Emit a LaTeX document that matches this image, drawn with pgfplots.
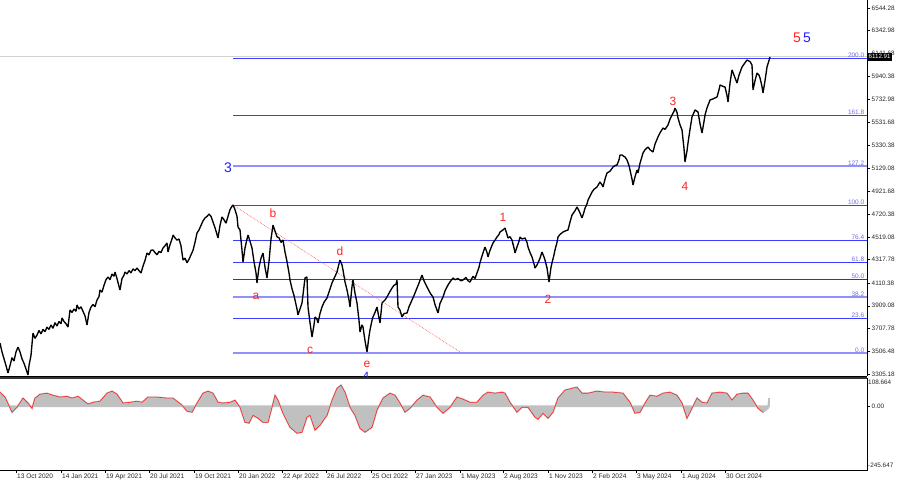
\documentclass[border=0pt]{standalone}
\usepackage{fontspec}
\setmainfont{Liberation Sans}
\usepackage{pgfplots}
\pgfplotsset{compat=1.18}
\definecolor{fibblue}{RGB}{60,60,255}
\definecolor{fibdark}{RGB}{45,45,220}
\definecolor{fiblight}{RGB}{145,145,252}
\definecolor{fibtext}{RGB}{110,110,230}
\definecolor{wred}{RGB}{255,35,35}
\definecolor{wblue}{RGB}{30,30,255}
\definecolor{oscgray}{RGB}{192,192,192}
\pgfplotsset{fibline/.style={draw=fibblue, line width=1bp, mark=none},
  fiblightline/.style={draw=fiblight, line width=2bp, mark=none}}
\begin{document}
\begin{tikzpicture}
\useasboundingbox (0,0) rectangle (900bp,-485bp);
\begin{axis}[
  name=main, at={(0,0)}, anchor=north west, scale only axis,
  width=867bp, height=376bp,
  xmin=0, xmax=867, ymin=3287.5, ymax=6615,
  axis x line*=bottom, axis y line*=right,
  axis line style={-, black, line width=1pt},
  xtick=\empty,
  ytick={3305.18,3506.48,3707.78,3909.08,4110.38,4317.78,4519.08,4720.38,4921.68,5129.08,5330.38,5531.68,5732.98,5940.38,6141.68,6342.98,6544.28},
  yticklabels={3305.18,3506.48,3707.78,3909.08,4110.38,4317.78,4519.08,4720.38,4921.68,5129.08,5330.38,5531.68,5732.98,5940.38,6141.68,6342.98,6544.28},
  yticklabel style={font=\fontsize{6.4}{7}\selectfont, text=black!85, inner sep=1.5bp},
  tick align=outside, major tick length=3bp, tick style={black, line width=0.5pt},
  clip=true,
]
% current price line
\addplot[draw=gray!35, line width=1pt] coordinates {(0,6112.91) (867,6112.91)};
% fibonacci levels
\addplot[fibline] coordinates {(233,6097.3) (867,6097.3)};
\addplot[fibline] coordinates {(233,5592.9) (867,5592.9)};
\addplot[fiblightline] coordinates {(233,5146) (867,5146)};
\addplot[fibline] coordinates {(233,4796.4) (867,4796.4)};
\addplot[fibline] coordinates {(233,4486.6) (867,4486.6)};
\addplot[fibline] coordinates {(233,4292) (867,4292)};
\addplot[fibline, draw=fibdark] coordinates {(233,4141.5) (867,4141.5)};
\addplot[fiblightline] coordinates {(233,3986.6) (867,3986.6)};
\addplot[fibline] coordinates {(233,3796.4) (867,3796.4)};
\addplot[fiblightline] coordinates {(233,3491) (867,3491)};
% trend line
\addplot[draw=wred!70, densely dotted, line width=0.7pt] coordinates {(233,4801) (460,3500)};
% price
\addplot[draw=black, line width=1.35pt, line join=bevel] coordinates {
(0,3579) (2,3500) (4,3440) (6,3380) (8,3314) (10,3380) (12,3450) (14,3420) (16,3500) (18,3544)
(20,3500) (22,3440) (24,3400) (26,3350) (28,3296) (29,3380) (31,3470) (33,3668) (35,3620) (37,3650)
(39,3690) (41,3660) (43,3700) (45,3680) (47,3720) (49,3700) (51,3739) (53,3710) (55,3760) (57,3730)
(59,3770) (61,3750) (62,3801) (64,3770) (66,3750) (68,3721) (70,3872) (72,3850) (74,3880) (76,3860)
(77,3916) (79,3880) (81,3900) (83,3860) (85,3820) (87,3739) (89,3850) (91,3898) (93,3920) (95,3900)
(97,3960) (99,3990) (100,4049) (102,4030) (104,4090) (106,4140) (108,4164) (110,4140) (112,4190) (114,4170)
(115,4208) (117,4150) (119,4080) (120,4049) (122,4150) (124,4180) (125,4208) (127,4190) (129,4220) (131,4200)
(133,4235) (135,4220) (137,4243) (139,4220) (141,4199) (143,4260) (145,4310) (147,4376) (149,4360) (151,4400)
(153,4403) (155,4380) (157,4360) (159,4390) (161,4380) (163,4420) (165,4440) (167,4465) (168,4385) (170,4450)
(172,4500) (173,4535) (175,4510) (177,4490) (179,4500) (181,4440) (183,4314) (185,4330) (187,4290) (189,4320)
(191,4360) (193,4400) (195,4470) (197,4553) (199,4580) (201,4620) (203,4660) (205,4686) (207,4700) (209,4720)
(211,4700) (213,4650) (215,4600) (217,4540) (218,4509) (220,4620) (222,4695) (224,4670) (226,4640) (228,4700)
(230,4760) (232,4790) (233,4801) (235,4760) (237,4700) (238,4606) (240,4580) (242,4400) (243,4296) (245,4420)
(247,4500) (248,4535) (250,4480) (252,4420) (254,4300) (256,4200) (257,4111) (259,4250) (261,4330) (263,4376)
(265,4250) (267,4155) (269,4300) (271,4500) (273,4623) (275,4570) (277,4520) (279,4510) (281,4470) (283,4491)
(285,4385) (287,4300) (289,4200) (290,4137) (292,4060) (294,4000) (295,3960) (297,3880) (298,3827) (300,3880)
(302,3934) (304,4080) (305,4155) (307,4164) (308,3898) (310,3760) (312,3633) (314,3740) (315,3810) (317,3790)
(318,3757) (320,3840) (322,3898) (324,3940) (327,3978) (329,4030) (332,4111) (334,4150) (337,4208) (339,4280)
(340,4314) (342,4270) (343,4226) (345,4120) (347,4049) (349,3960) (350,3898) (352,4080) (353,4137) (355,4020)
(357,3934) (359,3780) (360,3677) (362,3740) (363,3721) (365,3600) (367,3500) (369,3640) (370,3695) (372,3780)
(373,3810) (375,3850) (377,3898) (379,3800) (380,3757) (382,3934) (385,3960) (387,3987) (389,4020) (392,4066)
(394,4090) (396,4100) (397,4137) (398,3898) (400,3870) (402,3810) (404,3840) (407,3845) (409,3900) (412,3960)
(414,4000) (417,4066) (419,4110) (422,4181) (424,4130) (427,4075) (429,4040) (431,4010) (433,3987) (435,3920)
(438,3845) (440,3930) (443,3987) (445,4040) (448,4093) (450,4120) (453,4155) (455,4140) (458,4150) (461,4130)
(463,4137) (466,4160) (468,4130) (470,4119) (473,4170) (475,4150) (477,4199) (479,4250) (480,4290) (482,4350)
(485,4429) (487,4380) (488,4341) (490,4400) (493,4465) (495,4490) (497,4518) (499,4540) (500,4562) (503,4580)
(505,4597) (507,4540) (508,4509) (510,4520) (512,4491) (514,4420) (515,4376) (517,4429) (519,4480) (520,4518)
(522,4500) (525,4509) (527,4470) (528,4429) (530,4380) (532,4341) (534,4280) (535,4243) (537,4270) (538,4288)
(540,4330) (542,4385) (544,4340) (545,4314) (547,4243) (549,4119) (551,4250) (552,4288) (554,4360) (555,4403)
(557,4470) (558,4518) (560,4540) (563,4562) (565,4570) (568,4580) (570,4650) (572,4712) (575,4750) (577,4783)
(579,4750) (580,4730) (582,4686) (584,4740) (585,4774) (587,4810) (588,4845) (590,4880) (592,4916) (594,4940)
(597,4960) (599,4990) (600,5004) (602,4980) (603,4960) (605,5030) (607,5084) (610,5100) (613,5137) (615,5150)
(617,5155) (619,5200) (620,5243) (622,5243) (624,5230) (625,5226) (627,5199) (629,5150) (630,5111) (632,5030)
(633,4978) (635,5050) (637,5111) (638,5084) (640,5170) (643,5261) (645,5290) (648,5314) (650,5290) (653,5270)
(655,5340) (658,5403) (660,5440) (663,5482) (665,5470) (668,5509) (670,5560) (672,5597) (674,5630) (675,5659)
(677,5620) (678,5571) (680,5510) (682,5465) (684,5300) (685,5181) (687,5280) (688,5350) (690,5470) (692,5580)
(694,5620) (695,5642) (697,5630) (698,5624) (700,5520) (702,5438) (704,5540) (705,5597) (707,5660) (710,5730)
(713,5740) (717,5757) (719,5820) (720,5863) (723,5850) (725,5845) (727,5770) (728,5712) (730,5880) (732,5996)
(734,5950) (737,5880) (739,5950) (742,6022) (745,6060) (747,6084) (750,6070) (752,6040) (753,5819) (755,5900)
(757,5969) (759,5950) (760,5925) (762,5850) (763,5792) (765,5900) (767,6022) (769,6080) (770,6111)
};
% fib labels
\begin{scope}[every node/.style={anchor=south east, inner sep=0.6bp, text=fibtext, font=\fontsize{6.5}{7}\selectfont}]
\node at (axis cs:865,6097.3) {200.0};
\node at (axis cs:865,5592.9) {161.8};
\node at (axis cs:865,5146) {127.2};
\node at (axis cs:865,4796.4) {100.0};
\node at (axis cs:865,4486.6) {76.4};
\node at (axis cs:865,4292) {61.8};
\node at (axis cs:865,4141.5) {50.0};
\node at (axis cs:865,3986.6) {38.2};
\node at (axis cs:865,3796.4) {23.6};
\node at (axis cs:865,3491) {0.0};
\end{scope}
% wave labels
\node[text=wblue, font=\fontsize{14}{14}\selectfont] at (axis cs:228,5128) {3};
\node[text=wred, font=\fontsize{14}{14}\selectfont] at (axis cs:797,6279) {5};
\node[text=wblue, font=\fontsize{14}{14}\selectfont] at (axis cs:807,6279) {5};
\node[text=wred, font=\fontsize{12}{12}\selectfont] at (axis cs:273,4730) {b};
\node[text=wred, font=\fontsize{12}{12}\selectfont] at (axis cs:256,3995) {a};
\node[text=wred, font=\fontsize{12}{12}\selectfont] at (axis cs:310,3518) {c};
\node[text=wred, font=\fontsize{12}{12}\selectfont] at (axis cs:340,4394) {d};
\node[text=wred, font=\fontsize{12}{12}\selectfont] at (axis cs:367,3394) {e};
\node[text=wblue, font=\fontsize{12}{12}\selectfont, anchor=north, inner sep=0pt] at (axis cs:366,3322) {4};
\node[text=wred, font=\fontsize{12}{12}\selectfont] at (axis cs:503,4695) {1};
\node[text=wred, font=\fontsize{12}{12}\selectfont] at (axis cs:548,3969) {2};
\node[text=wred, font=\fontsize{12}{12}\selectfont] at (axis cs:673,5721) {3};
\node[text=wred, font=\fontsize{12}{12}\selectfont] at (axis cs:685,4969) {4};
\coordinate (pl) at (axis cs:867,6112.91);
\end{axis}
\node[fill=black, text=white, anchor=west, inner sep=1bp, minimum height=8bp, font=\fontsize{6.2}{7}\selectfont] at ([xshift=0.5bp]pl) {6112.91};

\begin{axis}[
  name=osc, at={(0,-378bp)}, anchor=north west, scale only axis,
  width=867bp, height=92bp,
  xmin=0, xmax=867, ymin=-245.647, ymax=108.664,
  axis line style={draw=none},
  ytick={0}, yticklabels={0.00}, yticklabel pos=right,
  yticklabel style={font=\fontsize{6.4}{7}\selectfont, text=black!85, inner sep=1.5bp},
  xtick={-27,16,61,105,149,194,238,282,326,371,415,460,503,548,592,636,681,725},
  xticklabels={20 Jul 2020,13 Oct 2020,14 Jan 2021,19 Apr 2021,20 Jul 2021,19 Oct 2021,20 Jan 2022,22 Apr 2022,26 Jul 2022,25 Oct 2022,27 Jan 2023,1 May 2023,2 Aug 2023,1 Nov 2023,2 Feb 2024,3 May 2024,1 Aug 2024,30 Oct 2024},
  xticklabel style={font=\fontsize{6.6}{7}\selectfont, text=black!85, anchor=north west, xshift=0bp, inner sep=1bp},
  xtick pos=bottom,
  tick align=outside, major tick length=3bp, tick style={black, line width=0.5pt},
  clip=false,
]
\addplot[fill=oscgray, draw=oscgray, line width=1.6pt] coordinates {
(0,54) (5,35) (12,-23) (17,-4) (23,31) (28,12) (32,-8) (35,31) (40,46) (47,50) (53,42) (60,35) (67,38) (72,31) (78,38) (83,23) (88,8) (93,15) (100,19) (107,50) (112,58) (117,46) (123,12) (130,15) (137,19) (142,15) (148,35) (157,35) (167,31) (173,31) (182,4) (187,-19) (192,-23) (197,12) (203,50) (208,58) (213,50) (218,15) (223,12) (230,15) (235,23) (240,-4) (245,-62) (249,-65) (253,-35) (258,-46) (263,-62) (268,-62) (272,-4) (275,42) (278,23) (283,-27) (290,-81) (297,-104) (302,-100) (307,-42) (310,-35) (315,-92) (320,-73) (327,-35) (332,23) (337,69) (341,81) (345,54) (350,-4) (355,-35) (360,-85) (365,-100) (372,-81) (377,-15) (383,31) (390,50) (395,42) (400,12) (405,-23) (410,-8) (417,23) (423,42) (430,35) (437,-4) (443,-27) (450,-4) (457,35) (463,27) (470,15) (477,15) (483,42) (488,54) (495,50) (502,54) (505,50) (510,15) (517,-23) (522,-4) (528,-4) (535,-42) (538,-50) (543,-27) (548,-46) (553,-23) (558,31) (565,62) (572,69) (577,73) (582,50) (588,50) (597,58) (605,54) (613,54) (623,50) (630,15) (635,-27) (640,-23) (645,12) (650,42) (657,38) (663,50) (670,54) (677,42) (682,12) (685,-23) (687,-46) (692,-8) (697,31) (702,15) (707,12) (712,50) (720,54) (727,50) (732,23) (737,46) (743,50) (748,50) (753,23) (758,-8) (763,-23) (768,-8) (769,31)
} \closedcycle;
\addplot[draw=wred, line width=0.6pt] coordinates {
(0,54) (5,35) (12,-23) (17,-4) (23,31) (28,12) (32,-8) (35,31) (40,46) (47,50) (53,42) (60,35) (67,38) (72,31) (78,38) (83,23) (88,8) (93,15) (100,19) (107,50) (112,58) (117,46) (123,12) (130,15) (137,19) (142,15) (148,35) (157,35) (167,31) (173,31) (182,4) (187,-19) (192,-23) (197,12) (203,50) (208,58) (213,50) (218,15) (223,12) (230,15) (235,23) (240,-4) (245,-62) (249,-65) (253,-35) (258,-46) (263,-62) (268,-62) (272,-4) (275,42) (278,23) (283,-27) (290,-81) (297,-104) (302,-100) (307,-42) (310,-35) (315,-92) (320,-73) (327,-35) (332,23) (337,69) (341,81) (345,54) (350,-4) (355,-35) (360,-85) (365,-100) (372,-81) (377,-15) (383,31) (390,50) (395,42) (400,12) (405,-23) (410,-8) (417,23) (423,42) (430,35) (437,-4) (443,-27) (450,-4) (457,35) (463,27) (470,15) (477,15) (483,42) (488,54) (495,50) (502,54) (505,50) (510,15) (517,-23) (522,-4) (528,-4) (535,-42) (538,-50) (543,-27) (548,-46) (553,-23) (558,31) (565,62) (572,69) (577,73) (582,50) (588,50) (597,58) (605,54) (613,54) (623,50) (630,15) (635,-27) (640,-23) (645,12) (650,42) (657,38) (663,50) (670,54) (677,42) (682,12) (685,-23) (687,-46) (692,-8) (697,31) (702,15) (707,12) (712,50) (720,54) (727,50) (732,23) (737,46) (743,50) (748,50) (753,23) (758,-8) (763,-23)
};
\draw[black!80, line width=1.2pt] (rel axis cs:0,1) -- (rel axis cs:1,1);
\draw[black, line width=1pt] (rel axis cs:1,1) -- (rel axis cs:1,0) -- (rel axis cs:0,0);
\node[anchor=north west, inner sep=1bp, font=\fontsize{6.4}{7}\selectfont, text=black!85] at ([yshift=-1bp]rel axis cs:1,1) {108.664};
\node[anchor=south west, inner sep=1bp, font=\fontsize{6.4}{7}\selectfont, text=black!85] at ([yshift=1bp]rel axis cs:1,0) {-245.647};
\end{axis}
\end{tikzpicture}
\end{document}
